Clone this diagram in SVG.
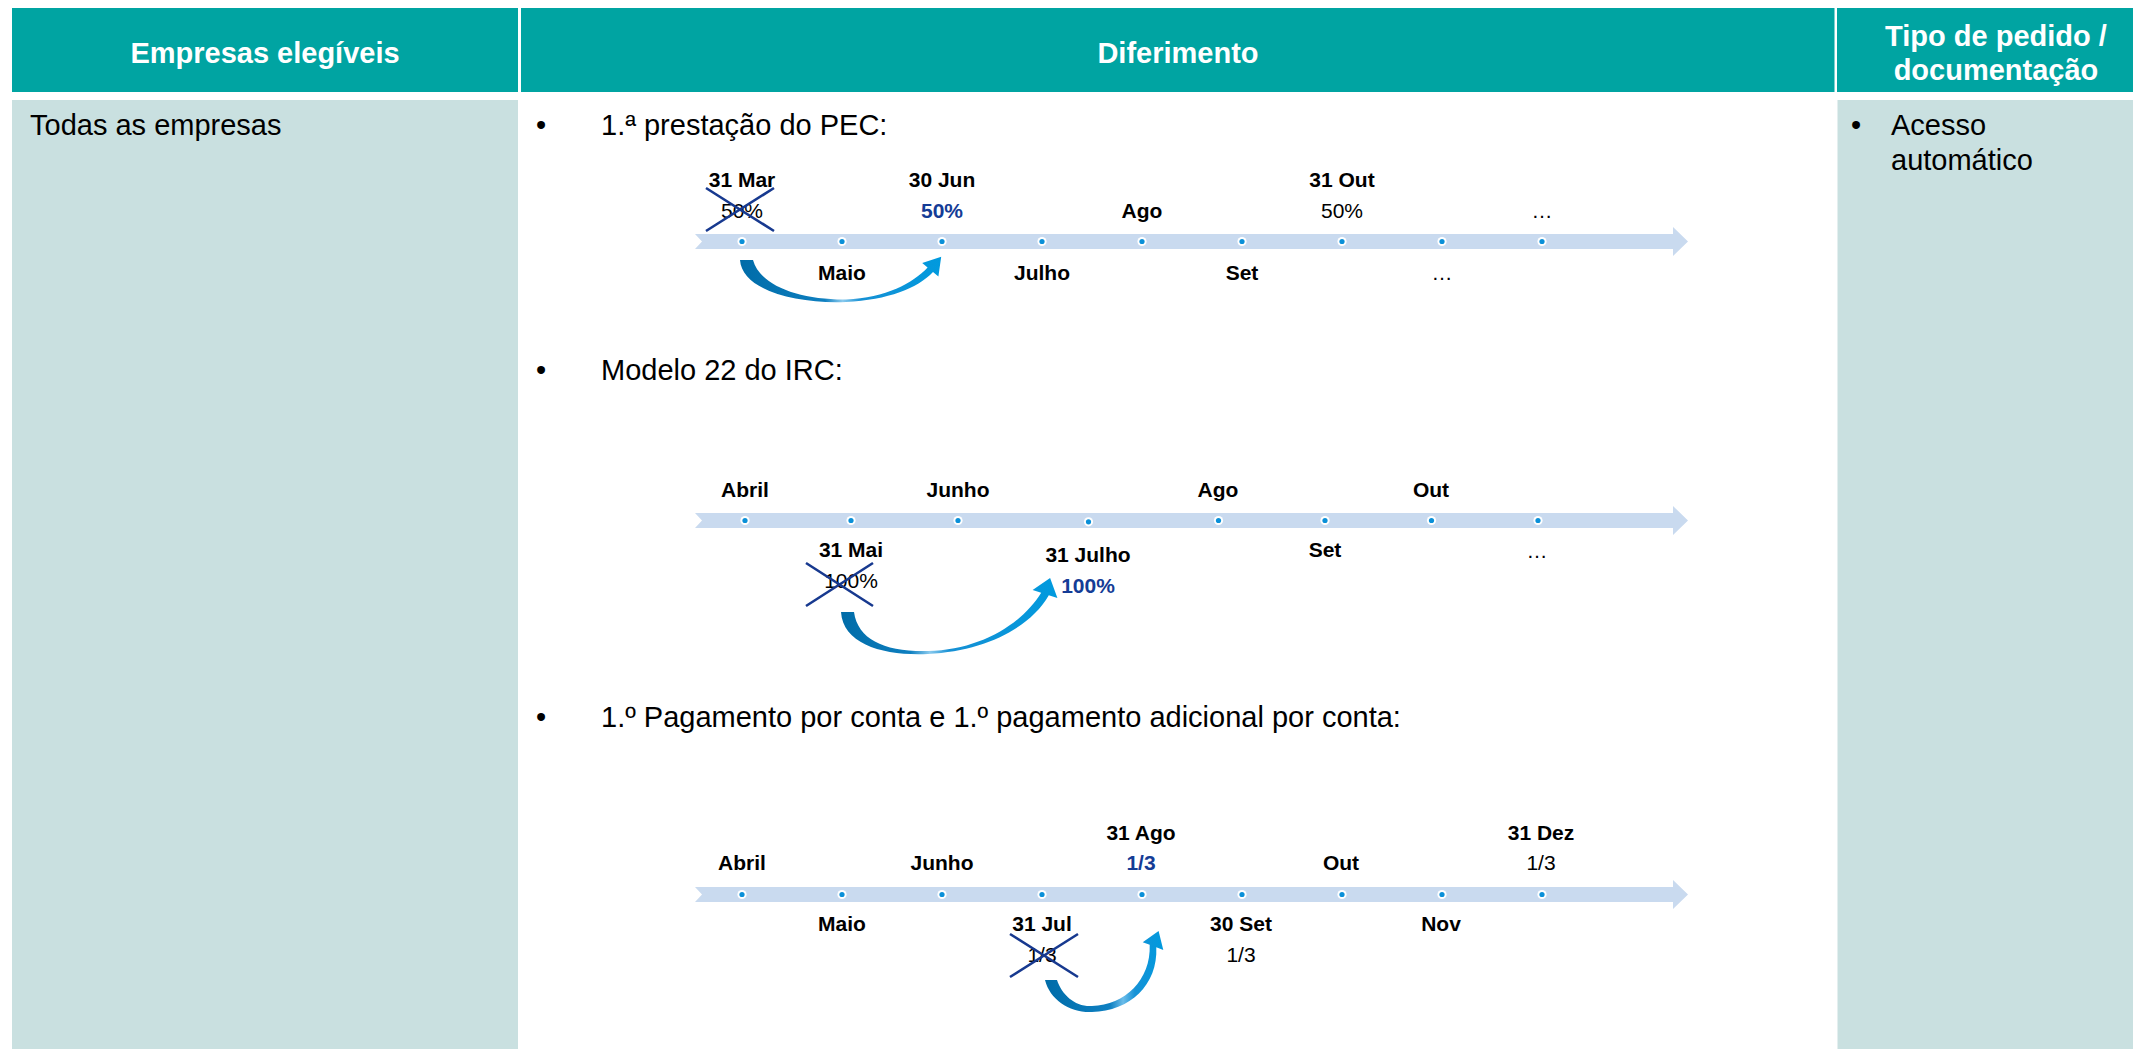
<svg xmlns="http://www.w3.org/2000/svg" width="2133" height="1049" viewBox="0 0 2133 1049">
<style>
text{font-family:"Liberation Sans",Arial,sans-serif;}
.hd{fill:#00A4A2;}
.bd{fill:#C9E0E0;}
.ht{font-size:29px;font-weight:bold;fill:#FFFFFF;text-anchor:middle;}
.bt{font-size:29px;fill:#000000;}
.lb{font-size:21px;font-weight:bold;fill:#000000;text-anchor:middle;}
.lr{font-size:21px;fill:#000000;text-anchor:middle;}
.lblue{font-size:21px;font-weight:bold;fill:#143C96;text-anchor:middle;}
.bar{fill:#C9DAEF;}
.ring{fill:#FFFFFF;}
.dot{fill:#0A90D8;}
.x{stroke:#17398F;stroke-width:2.6;fill:none;}
</style>
<defs>
<linearGradient id="cg1" x1="0" y1="0" x2="1" y2="0">
<stop offset="0" stop-color="#006CA8"/>
<stop offset="0.42" stop-color="#0E7FC0"/>
<stop offset="0.51" stop-color="#8ACAEE"/>
<stop offset="0.60" stop-color="#1690D4"/>
<stop offset="1" stop-color="#009ADE"/>
</linearGradient>
<linearGradient id="cg2" x1="0" y1="0" x2="1" y2="0">
<stop offset="0" stop-color="#006CA8"/>
<stop offset="0.32" stop-color="#0E7FC0"/>
<stop offset="0.41" stop-color="#8ACAEE"/>
<stop offset="0.50" stop-color="#1690D4"/>
<stop offset="1" stop-color="#009ADE"/>
</linearGradient>
<linearGradient id="cg3" x1="0" y1="0" x2="1" y2="0">
<stop offset="0" stop-color="#006CA8"/>
<stop offset="0.55" stop-color="#0E80C2"/>
<stop offset="0.66" stop-color="#6BBCE9"/>
<stop offset="0.76" stop-color="#1592D6"/>
<stop offset="1" stop-color="#009ADE"/>
</linearGradient>
</defs>
<rect width="2133" height="1049" fill="#FFFFFF"/>

<g id="header-empresas">
<rect class="hd" x="12" y="8" width="506" height="84"/>
<text class="ht" x="265" y="63">Empresas elegíveis</text>
</g>
<g id="header-diferimento">
<rect class="hd" x="521" y="8" width="1313.5" height="84"/>
<text class="ht" x="1178" y="63">Diferimento</text>
</g>
<g id="header-tipo">
<rect class="hd" x="1837" y="8" width="296" height="84"/>
<text class="ht" x="1996" y="46">Tipo de pedido /</text>
<text class="ht" x="1996" y="80">documentação</text>
</g>

<g id="cell-empresas">
<rect class="bd" x="12" y="100" width="506" height="949"/>
<text class="bt" x="30" y="135">Todas as empresas</text>
</g>
<g id="cell-tipo">
<rect class="bd" x="1837.5" y="100" width="295.5" height="949"/>
<text class="bt" x="1851" y="135">•</text>
<text class="bt" x="1891" y="135">Acesso</text>
<text class="bt" x="1891" y="170">automático</text>
</g>

<g id="cell-diferimento">
<text class="bt" x="536" y="135">•</text>
<text class="bt" x="601" y="135">1.ª prestação do PEC:</text>
<text class="bt" x="536" y="380">•</text>
<text class="bt" x="601" y="380">Modelo 22 do IRC:</text>
<text class="bt" x="536" y="727">•</text>
<text class="bt" x="601" y="727">1.º Pagamento por conta e 1.º pagamento adicional por conta:</text>
</g>

<g id="timeline-pec">
<path class="bar" d="M695 234 L1673 234 L1673 227 L1688 241.5 L1673 256 L1673 249 L695 249 L702 241.5 Z"/>
<g>
<circle class="ring" cx="742" cy="241.5" r="4.6"/><circle class="dot" cx="742" cy="241.5" r="2.6"/>
<circle class="ring" cx="842" cy="241.5" r="4.6"/><circle class="dot" cx="842" cy="241.5" r="2.6"/>
<circle class="ring" cx="942" cy="241.5" r="4.6"/><circle class="dot" cx="942" cy="241.5" r="2.6"/>
<circle class="ring" cx="1042" cy="241.5" r="4.6"/><circle class="dot" cx="1042" cy="241.5" r="2.6"/>
<circle class="ring" cx="1142" cy="241.5" r="4.6"/><circle class="dot" cx="1142" cy="241.5" r="2.6"/>
<circle class="ring" cx="1242" cy="241.5" r="4.6"/><circle class="dot" cx="1242" cy="241.5" r="2.6"/>
<circle class="ring" cx="1342" cy="241.5" r="4.6"/><circle class="dot" cx="1342" cy="241.5" r="2.6"/>
<circle class="ring" cx="1442" cy="241.5" r="4.6"/><circle class="dot" cx="1442" cy="241.5" r="2.6"/>
<circle class="ring" cx="1542" cy="241.5" r="4.6"/><circle class="dot" cx="1542" cy="241.5" r="2.6"/>
</g>
<text class="lb" x="742" y="187">31 Mar</text>
<text class="lb" x="942" y="187">30 Jun</text>
<text class="lb" x="1342" y="187">31 Out</text>
<text class="lr" x="742" y="218">50%</text>
<text class="lblue" x="942" y="218">50%</text>
<text class="lb" x="1142" y="218">Ago</text>
<text class="lr" x="1342" y="218">50%</text>
<text class="lr" x="1542" y="218">…</text>
<text class="lb" x="842" y="280">Maio</text>
<text class="lb" x="1042" y="280">Julho</text>
<text class="lb" x="1242" y="280">Set</text>
<text class="lr" x="1442" y="280">…</text>
<path class="x" d="M706 188 L774 231 M706 231 L774 188"/>
</g>

<g id="timeline-irc">
<path class="bar" d="M695 513 L1673 513 L1673 506 L1688 520.5 L1673 535 L1673 528 L695 528 L702 520.5 Z"/>
<g>
<circle class="ring" cx="745" cy="520.5" r="4.6"/><circle class="dot" cx="745" cy="520.5" r="2.6"/>
<circle class="ring" cx="851" cy="520.5" r="4.6"/><circle class="dot" cx="851" cy="520.5" r="2.6"/>
<circle class="ring" cx="958" cy="520.5" r="4.6"/><circle class="dot" cx="958" cy="520.5" r="2.6"/>
<circle class="ring" cx="1088.5" cy="521.8" r="4.6"/><circle class="dot" cx="1088.5" cy="521.8" r="2.6"/>
<circle class="ring" cx="1218.5" cy="520.5" r="4.6"/><circle class="dot" cx="1218.5" cy="520.5" r="2.6"/>
<circle class="ring" cx="1325" cy="520.5" r="4.6"/><circle class="dot" cx="1325" cy="520.5" r="2.6"/>
<circle class="ring" cx="1431.5" cy="520.5" r="4.6"/><circle class="dot" cx="1431.5" cy="520.5" r="2.6"/>
<circle class="ring" cx="1538" cy="520.5" r="4.6"/><circle class="dot" cx="1538" cy="520.5" r="2.6"/>
</g>
<text class="lb" x="745" y="497">Abril</text>
<text class="lb" x="958" y="497">Junho</text>
<text class="lb" x="1218" y="497">Ago</text>
<text class="lb" x="1431" y="497">Out</text>
<text class="lb" x="851" y="557">31 Mai</text>
<text class="lb" x="1088" y="562">31 Julho</text>
<text class="lb" x="1325" y="557">Set</text>
<text class="lr" x="1537" y="558">…</text>
<text class="lr" x="851" y="588">100%</text>
<text class="lblue" x="1088" y="593">100%</text>
<path class="x" d="M806 563 L873 606 M806 606 L873 563"/>
</g>

<g id="timeline-pagamento">
<path class="bar" d="M695 887 L1673 887 L1673 880 L1688 894.5 L1673 909 L1673 902 L695 902 L702 894.5 Z"/>
<g>
<circle class="ring" cx="742" cy="894.5" r="4.6"/><circle class="dot" cx="742" cy="894.5" r="2.6"/>
<circle class="ring" cx="842" cy="894.5" r="4.6"/><circle class="dot" cx="842" cy="894.5" r="2.6"/>
<circle class="ring" cx="942" cy="894.5" r="4.6"/><circle class="dot" cx="942" cy="894.5" r="2.6"/>
<circle class="ring" cx="1042" cy="894.5" r="4.6"/><circle class="dot" cx="1042" cy="894.5" r="2.6"/>
<circle class="ring" cx="1142" cy="894.5" r="4.6"/><circle class="dot" cx="1142" cy="894.5" r="2.6"/>
<circle class="ring" cx="1242" cy="894.5" r="4.6"/><circle class="dot" cx="1242" cy="894.5" r="2.6"/>
<circle class="ring" cx="1342" cy="894.5" r="4.6"/><circle class="dot" cx="1342" cy="894.5" r="2.6"/>
<circle class="ring" cx="1442" cy="894.5" r="4.6"/><circle class="dot" cx="1442" cy="894.5" r="2.6"/>
<circle class="ring" cx="1542" cy="894.5" r="4.6"/><circle class="dot" cx="1542" cy="894.5" r="2.6"/>
</g>
<text class="lb" x="1141" y="840">31 Ago</text>
<text class="lb" x="1541" y="840">31 Dez</text>
<text class="lb" x="742" y="870">Abril</text>
<text class="lb" x="942" y="870">Junho</text>
<text class="lblue" x="1141" y="870">1/3</text>
<text class="lb" x="1341" y="870">Out</text>
<text class="lr" x="1541" y="870">1/3</text>
<text class="lb" x="842" y="931">Maio</text>
<text class="lb" x="1042" y="931">31 Jul</text>
<text class="lb" x="1241" y="931">30 Set</text>
<text class="lb" x="1441" y="931">Nov</text>
<text class="lr" x="1042" y="962">1/3</text>
<text class="lr" x="1241" y="962">1/3</text>
<path class="x" d="M1010 934 L1078 977 M1010 977 L1078 934"/>
</g>

<g id="connectors">
<path fill="url(#cg1)" d="M740 260 C742 290 795 304 846 302 C888 300 918 288 933 272 L938.4 276.5 L941.2 256.7 L922.2 263 L927.6 267.5 C913 283 886 298 846 299.5 C800 300 760 286 753 260 Z"/>
<path fill="url(#cg2)" d="M841 612 C843 645 885 656 928 654 C985 651 1030 628 1048.8 595.2 L1057.4 597.9 L1050.1 577.9 L1032.6 590.1 L1041.2 592.8 C1022 624 980 650 928 651 C885 652 858 640 854 612 Z"/>
<path fill="url(#cg3)" d="M1045 980 C1050 1000 1070 1013 1092 1012 C1130 1011 1158 985 1156.3 947.2 L1163.3 949.9 L1158.6 931 L1142.7 942.2 L1149.7 944.8 C1151 980 1125 1005 1092 1006 C1075 1007 1062 995 1057 980 Z"/>
</g>
</svg>
